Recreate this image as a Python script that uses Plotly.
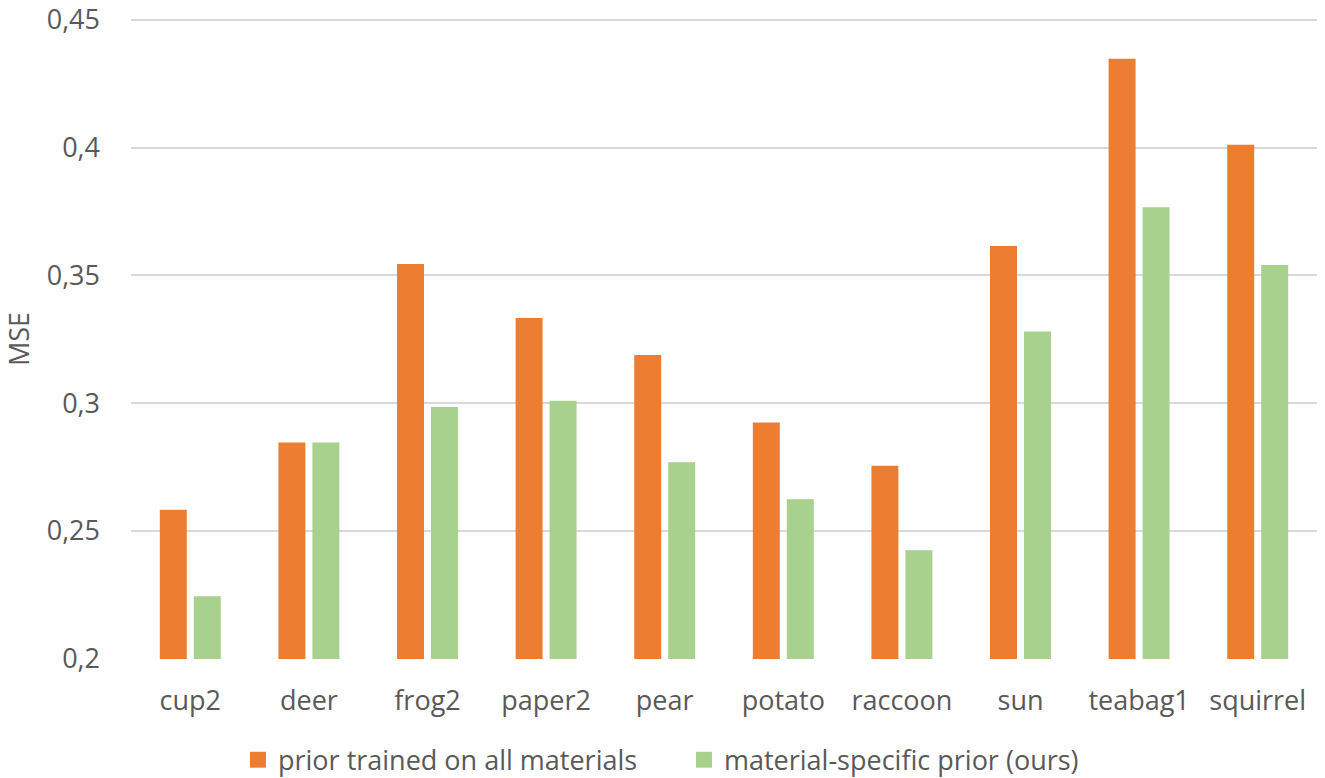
import plotly.graph_objects as go

categories = ["cup2", "deer", "frog2", "paper2", "pear", "potato", "raccoon", "sun", "teabag1", "squirrel"]
prior_all = [0.2582, 0.2846, 0.3545, 0.3333, 0.3188, 0.2924, 0.2755, 0.3615, 0.4348, 0.4012]
prior_specific = [0.2244, 0.2846, 0.2985, 0.3009, 0.2768, 0.2624, 0.2424, 0.3280, 0.3767, 0.3541]
series_names = ["prior trained on all materials", "material-specific prior (ours)"]
colors = ["#ED7D31", "#A9D18E"]
tick_vals = [0.2, 0.25, 0.3, 0.35, 0.4, 0.45]
tick_text = ["0,2", "0,25", "0,3", "0,35", "0,4", "0,45"]

FONT = "Open Sans"
TXT = "#595959"
FS = 27

fig = go.Figure()
for vals, name, col in zip([prior_all, prior_specific], series_names, colors):
    fig.add_trace(go.Bar(x=categories, y=vals, name=name, showlegend=False,
                         marker=dict(color=col, line=dict(width=0))))
# legend-only entries with larger square swatches
for name, col in zip(series_names, colors):
    fig.add_trace(go.Scatter(x=[None], y=[None], mode="markers", name=name,
                             marker=dict(symbol="square", size=18, color=col),
                             showlegend=True, hoverinfo="skip"))

fig.update_layout(
    width=1325, height=778,
    margin=dict(l=131, r=8, t=19, b=119, autoexpand=False),
    paper_bgcolor="white", plot_bgcolor="white",
    barmode="group", bargap=0.427, bargroupgap=0.206,
    font=dict(family=FONT, color=TXT, size=FS),
    showlegend=True,
    legend=dict(orientation="h", x=0.0902, xanchor="left", y=-0.158, yanchor="middle",
                font=dict(size=FS, color=TXT), itemsizing="trace",
                traceorder="normal", itemwidth=30, entrywidth=401),
    xaxis=dict(showgrid=False, showline=False, ticks="", tickfont=dict(size=FS, color=TXT),
               ticklabelstandoff=23),
    yaxis=dict(range=[0.1998, 0.4504], tickvals=tick_vals, ticktext=tick_text,
               showgrid=True, gridcolor="#D9D9D9", gridwidth=1.5,
               zeroline=False, showline=False, ticks="", ticklabeloverflow="allow",
               tickfont=dict(size=FS, color=TXT), ticklabelstandoff=30,
               title=dict(text="MSE", font=dict(size=FS, color=TXT), standoff=27)),
)

fig.write_html("out.html", config={"displayModeBar": False},
               post_script="document.body.style.margin='0';document.body.style.overflow='hidden';")
